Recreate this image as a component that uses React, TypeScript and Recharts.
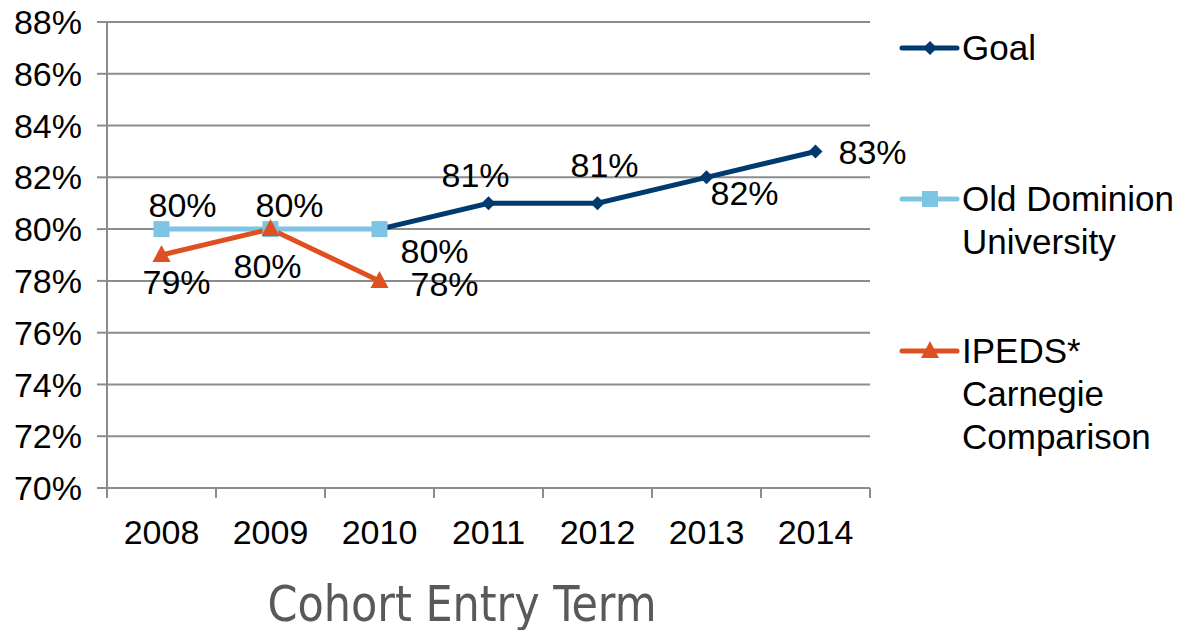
import { LineChart, Line, XAxis, YAxis, CartesianGrid, Label } from "recharts";

const YEARS = ["2008", "2009", "2010", "2011", "2012", "2013", "2014"];
const GOAL = [null, null, 80, 81, 81, 82, 83];
const ODU = [80, 80, 80, null, null, null, null];
const IPEDS = [79, 80, 78, null, null, null, null];
const Y_TICKS = [70, 72, 74, 76, 78, 80, 82, 84, 86, 88];

// label offsets from the point (dx, dy to the text centre), like the hand-dragged labels in the original
const GOAL_LABEL_OFFSETS = [null, null, [55, 22], [-13, -28], [7, -38], [38, 16], [57, 1]];
const ODU_LABEL_OFFSETS = [[21, -24], [19, -24], null, null, null, null, null];
const IPEDS_LABEL_OFFSETS = [[15, 27], [-3, 37], [65, 3], null, null, null, null];

const GOAL_COLOR = "#003a6e";
const ODU_COLOR = "#7ec5e4";
const IPEDS_COLOR = "#df5020";
const GRID = "#8c8c8c";
const FONT = '"Liberation Sans", Arial, sans-serif';

const PLOT_LEFT = 107;
const PLOT_RIGHT = 870;
const BAND = (PLOT_RIGHT - PLOT_LEFT) / YEARS.length;

const data = YEARS.map((year, i) => ({
  year,
  goal: GOAL[i],
  odu: ODU[i],
  ipeds: IPEDS[i],
}));

type Marker = "diamond" | "square" | "triangle";

function markerShape(kind: Marker, cx: number, cy: number, color: string, key?: any) {
  if (kind === "diamond") {
    return (
      <polygon key={key} points={`${cx},${cy - 7} ${cx + 7},${cy} ${cx},${cy + 7} ${cx - 7},${cy}`} fill={color} />
    );
  }
  if (kind === "square") {
    return <rect key={key} x={cx - 8} y={cy - 8} width={16} height={16} fill={color} />;
  }
  return (
    <polygon key={key} points={`${cx},${cy - 10} ${cx + 9},${cy + 7} ${cx - 9},${cy + 7}`} fill={color} />
  );
}

const dotFor = (kind: Marker, color: string) => (props: any) => {
  const { cx, cy, index, value } = props;
  if (value == null || cx == null || cy == null || Number.isNaN(cy)) return <g key={`e-${index}`} />;
  return markerShape(kind, cx, cy, color, `d-${index}`);
};

const labelFor = (offsets: (number[] | null)[]) => (props: any) => {
  const { index, value } = props;
  const x = props.x ?? props.viewBox?.x;
  const y = props.y ?? props.viewBox?.y;
  const off = offsets[index];
  if (value == null || !off || x == null || y == null) return null;
  return (
    <text
      x={x + off[0]}
      y={y + off[1] + 12}
      textAnchor="middle"
      fontSize={34}
      fontFamily={FONT}
      fill="#000"
    >
      {`${value}%`}
    </text>
  );
};

const XTick = (props: any) => {
  const { x, y, payload, index } = props;
  const last = index === YEARS.length - 1;
  return (
    <g>
      <line x1={x - BAND / 2} x2={x - BAND / 2} y1={y} y2={y + 10} stroke={GRID} strokeWidth={2} />
      {last && <line x1={x + BAND / 2} x2={x + BAND / 2} y1={y} y2={y + 10} stroke={GRID} strokeWidth={2} />}
      <text x={x} y={y + 56} textAnchor="middle" fontSize={34} fontFamily={FONT} fill="#000">
        {payload.value}
      </text>
    </g>
  );
};

const SERIES = [
  { name: "Goal", color: GOAL_COLOR, marker: "diamond" as Marker, top: 26 },
  { name: "Old Dominion University", color: ODU_COLOR, marker: "square" as Marker, top: 177 },
  { name: "IPEDS* Carnegie Comparison", color: IPEDS_COLOR, marker: "triangle" as Marker, top: 329 },
];

const LegendBox = () => (
  <div style={{ position: "absolute", left: 895, top: 0, width: 283, height: 470, fontFamily: FONT }}>
    {SERIES.map((s) => (
      <div key={s.name} style={{ position: "absolute", left: 0, top: s.top, display: "flex" }}>
        <svg width={67} height={43} style={{ flexShrink: 0 }}>
          <line x1={7} x2={62} y1={22} y2={22} stroke={s.color} strokeWidth={5} strokeLinecap="round" />
          {markerShape(s.marker, 35, 22, s.color)}
        </svg>
        <div style={{ width: 214, fontSize: 35, lineHeight: "43px", color: "#000" }}>{s.name}</div>
      </div>
    ))}
  </div>
);

export default function App() {
  return (
    <div style={{ position: "absolute", left: 0, top: 0, width: 1178, height: 630, background: "#fff" }}>
      <LineChart width={1178} height={630} data={data} margin={{ top: 22, right: 1178 - PLOT_RIGHT, bottom: 0, left: 0 }}>
        <CartesianGrid vertical={false} stroke={GRID} strokeWidth={2} />
        <XAxis
          dataKey="year"
          padding={{ left: BAND / 2, right: BAND / 2 }}
          height={142}
          tickSize={0}
          tickMargin={0}
          tickLine={false}
          axisLine={{ stroke: GRID, strokeWidth: 2 }}
          tick={<XTick />}
          interval={0}
        >
          <Label
            content={() => (
              <text
                x={462}
                y={621}
                textAnchor="middle"
                fontSize={50}
                fontFamily='"Liberation Sans Narrow", "DejaVu Sans Condensed", "Liberation Sans", sans-serif'
                fill="#595959"
                textLength={389}
                lengthAdjust="spacingAndGlyphs"
              >
                Cohort Entry Term
              </text>
            )}
          />
        </XAxis>
        <YAxis
          type="number"
          domain={[70, 88]}
          ticks={Y_TICKS}
          width={PLOT_LEFT}
          tickSize={10}
          tickMargin={15}
          interval={0}
          tickFormatter={(v: number) => `${v}%`}
          tick={{ fontSize: 34, fontFamily: FONT, fill: "#000" }}
          axisLine={{ stroke: GRID, strokeWidth: 2 }}
          tickLine={{ stroke: GRID, strokeWidth: 2 }}
        />
        <Line
          dataKey="goal"
          name="Goal"
          stroke={GOAL_COLOR}
          strokeWidth={5}
          dot={dotFor("diamond", GOAL_COLOR)}
          activeDot={false}
          label={labelFor(GOAL_LABEL_OFFSETS)}
          isAnimationActive={false}
        />
        <Line
          dataKey="odu"
          name="Old Dominion University"
          stroke={ODU_COLOR}
          strokeWidth={5}
          dot={dotFor("square", ODU_COLOR)}
          activeDot={false}
          label={labelFor(ODU_LABEL_OFFSETS)}
          isAnimationActive={false}
        />
        <Line
          dataKey="ipeds"
          name="IPEDS* Carnegie Comparison"
          stroke={IPEDS_COLOR}
          strokeWidth={5}
          dot={dotFor("triangle", IPEDS_COLOR)}
          activeDot={false}
          label={labelFor(IPEDS_LABEL_OFFSETS)}
          isAnimationActive={false}
        />
      </LineChart>
      <LegendBox />
    </div>
  );
}
